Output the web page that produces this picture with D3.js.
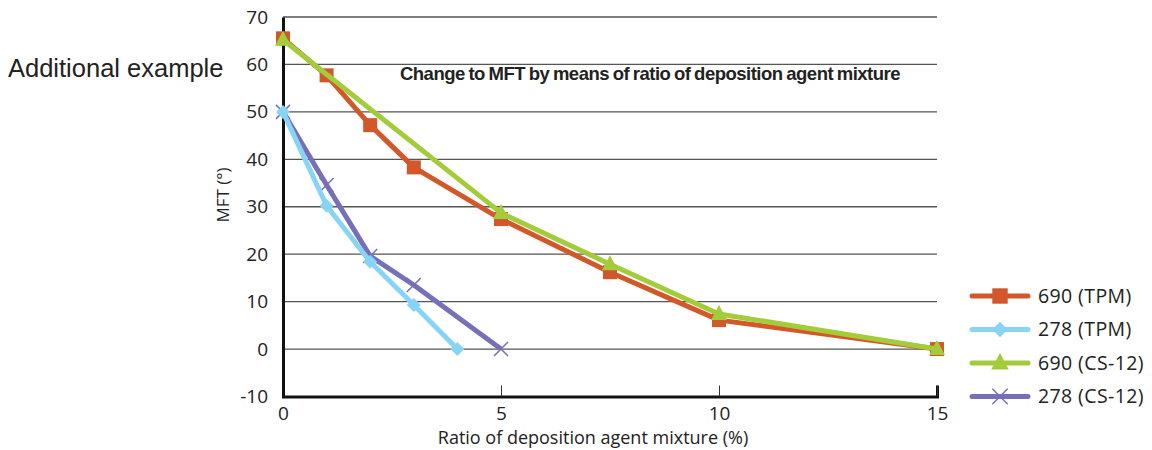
<!DOCTYPE html>
<html><head><meta charset="utf-8">
<script src="https://cdn.jsdelivr.net/npm/d3@7"></script>
<style>body{margin:0;background:#fff}svg{display:block}</style>
</head><body>
<svg id="c" width="1152" height="450"></svg>
<script>
const xTicks = [0, 5, 10, 15];
const yTicks = [-10, 0, 10, 20, 30, 40, 50, 60, 70];
const seriesNames = ["690 (TPM)", "278 (TPM)", "690 (CS-12)", "278 (CS-12)"];
const s690TPM = [[0,65.5],[1,57.7],[2,47.2],[3,38.3],[5,27.4],[7.5,16.2],[10,6.1],[15,0]];
const s278TPM = [[0,50],[1,30.2],[2,18.4],[3,9.3],[4,0]];
const s690CS = [[0,65.2],[5,28.7],[7.5,17.9],[10,7.4],[15,0]];
const s278CS = [[0,50],[1,34.6],[2,19.6],[3,13.5],[5,0]];
const colors = ["#D2572A", "#88D4F5", "#A4CC3A", "#7570B8"];
const markers = ["square", "diamond", "triangle", "cross"];

const svg = d3.select("#c");
const x = d3.scaleLinear().domain([0, 15]).range([283, 937]);
const y = d3.scaleLinear().domain([-10, 70]).range([396.5, 17]);
const font = "'Open Sans', 'Noto Sans', sans-serif";

// gridlines
svg.append("g").selectAll("line").data(yTicks.filter(d => d > -10)).join("line")
  .attr("x1", x(0)).attr("x2", x(15)).attr("y1", d => y(d)).attr("y2", d => y(d))
  .attr("stroke", "#555").attr("stroke-width", 1.3);

// axes
const xAxis = d3.axisBottom(x).tickValues(xTicks).tickSize(-11).tickPadding(10).tickFormat(d3.format("d"));
const gx = svg.append("g").attr("transform", `translate(0,${y(-10)})`).call(xAxis);
gx.select(".domain").attr("stroke", "#111").attr("stroke-width", 3);
gx.selectAll(".tick line").attr("stroke", "#333").attr("stroke-width", 1);
gx.selectAll(".tick text").attr("font-family", font).attr("font-size", 19).attr("fill", "#222").attr("dy", "0.71em");

const yAxis = d3.axisLeft(y).tickValues(yTicks).tickSize(0).tickPadding(15).tickFormat(d => String(d));
const gy = svg.append("g").attr("transform", `translate(${x(0)},0)`).call(yAxis);
gy.select(".domain").attr("stroke", "#111").attr("stroke-width", 3);
gy.selectAll(".tick text").attr("font-family", font).attr("font-size", 19).attr("fill", "#222");

// lines
const line = d3.line().x(d => x(d[0])).y(d => y(d[1]));
const allSeries = [s690TPM, s278TPM, s690CS, s278CS];
const order = [0, 2, 3, 1];

function drawMarker(g, type, cx, cy, color, scale) {
  const s = scale || 1;
  if (type === "square") {
    g.append("rect").attr("x", cx - 7*s).attr("y", cy - 7*s).attr("width", 14*s).attr("height", 14*s).attr("fill", color);
  } else if (type === "diamond") {
    g.append("path").attr("d", `M${cx},${cy-7*s}L${cx+7*s},${cy}L${cx},${cy+7*s}L${cx-7*s},${cy}Z`).attr("fill", color);
  } else if (type === "triangle") {
    g.append("path").attr("d", `M${cx},${cy-9*s}L${cx+8*s},${cy+6*s}L${cx-8*s},${cy+6*s}Z`).attr("fill", color);
  } else {
    g.append("path").attr("d", `M${cx-7*s},${cy-7*s}L${cx+7*s},${cy+7*s}M${cx+7*s},${cy-7*s}L${cx-7*s},${cy+7*s}`)
      .attr("stroke", color).attr("stroke-width", 1.5).attr("fill", "none");
  }
}

order.forEach(i => {
  const g = svg.append("g");
  g.append("path").datum(allSeries[i]).attr("d", line).attr("fill", "none")
    .attr("stroke", colors[i]).attr("stroke-width", 5).attr("stroke-linejoin", "round");
  allSeries[i].forEach(d => drawMarker(g, markers[i], x(d[0]), y(d[1]), colors[i]));
});

// legend
const leg = svg.append("g");
seriesNames.forEach((n, i) => {
  const ly = 296 + i * 33.5;
  leg.append("line").attr("x1", 972).attr("x2", 1028).attr("y1", ly).attr("y2", ly)
    .attr("stroke", colors[i]).attr("stroke-width", 5).attr("stroke-linecap", "round");
  drawMarker(leg, markers[i], 1000, ly, colors[i], 1.1);
  leg.append("text").attr("x", 1038).attr("y", ly).attr("dy", "0.35em")
    .attr("font-family", font).attr("font-size", 19.5).attr("letter-spacing", 0.4).attr("fill", "#222").text(n);
});

// texts
svg.append("text").attr("x", 8).attr("y", 68).attr("dy", "0.35em")
  .attr("font-family", "'Liberation Sans', Arial, sans-serif").attr("font-size", 25.5).attr("fill", "#222").text("Additional example");
svg.append("text").attr("x", 650).attr("y", 74).attr("dy", "0.35em").attr("text-anchor", "middle")
  .attr("font-family", "'Liberation Sans', Arial, sans-serif").attr("font-weight", "bold")
  .attr("font-size", 18.5).attr("letter-spacing", -0.5).attr("word-spacing", -1).attr("fill", "#222")
  .text("Change to MFT by means of ratio of deposition agent mixture");
svg.append("text").attr("transform", `translate(223,195) rotate(-90)`).attr("dy", "0.35em")
  .attr("text-anchor", "middle").attr("font-family", font).attr("font-size", 17).attr("fill", "#222").text("MFT (°)");
svg.append("text").attr("x", 593).attr("y", 438).attr("dy", "0.35em").attr("text-anchor", "middle")
  .attr("font-family", font).attr("font-size", 18).attr("fill", "#222").text("Ratio of deposition agent mixture (%)");
</script>
</body></html>
